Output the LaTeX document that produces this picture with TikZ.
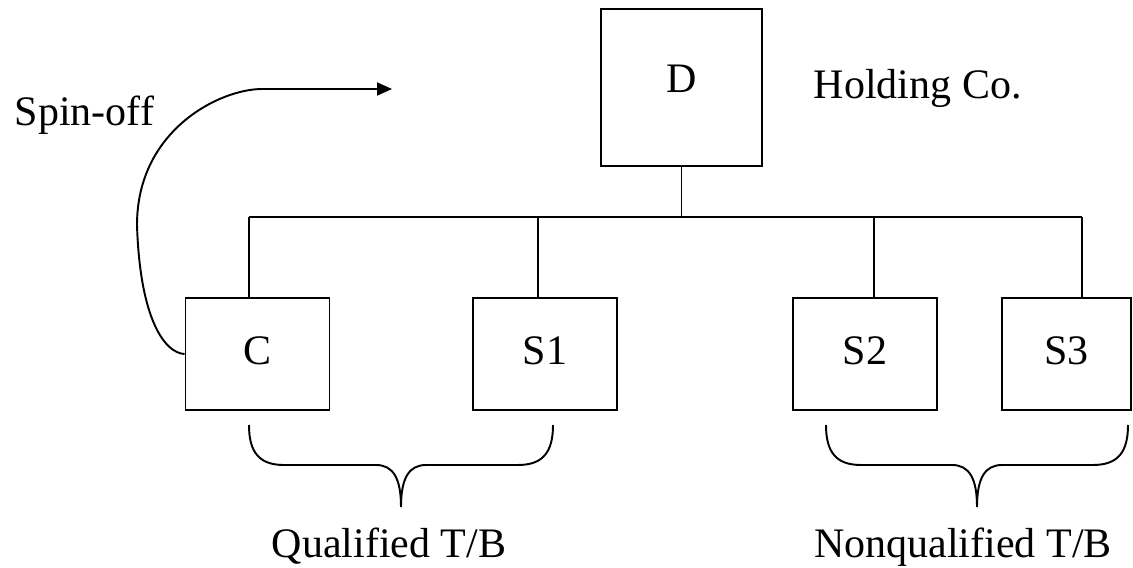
\documentclass[tikz,border=0pt]{standalone}
\usepackage{fontspec}
\setmainfont{Liberation Serif}
\usetikzlibrary{calc,arrows.meta}
\def\tbbrace(#1:#2){\draw[line width=1.1pt] (#1, 425) .. controls (#1, 452) and ({#1+10}, 465) .. ({#1+35}, 465) -- ({(#1+#2)/2-25}, 465) .. controls ({(#1+#2)/2-8}, 465) and ({(#1+#2)/2}, 478) .. ({(#1+#2)/2}, 507) .. controls ({(#1+#2)/2}, 478) and ({(#1+#2)/2+8}, 465) .. ({(#1+#2)/2+25}, 465) -- ({#2-35}, 465) .. controls ({#2-10}, 465) and (#2, 452) .. (#2, 425);}
\tikzset{
	firm/.style={draw, line width=1.1pt, minimum width=2.88cm, minimum height=2.24cm, inner sep=0pt, text depth=0.12cm, font=\fontsize{23.9}{28}\selectfont},
	caption/.style={inner sep=0pt, font=\fontsize{23.9}{28}\selectfont}
}

\begin{document}
\begin{tikzpicture}[x=0.02cm, y=-0.02cm, line width=1.1pt]
			%%%%% START %%%%%
			\useasboundingbox (0, 0) rectangle (1133, 568);
			
			\node[firm, minimum width=3.22cm, minimum height=3.14cm, text depth=0.36cm] (D) at (681.5, 87.5) {D};
			\node[caption, anchor=base west] (hold) at (813, 98) {Holding Co.};
			
			\node[firm] (C) at (257.5, 354) {C};
			\node[firm] (S1) at (545, 354) {S1};
			\node[firm] (S2) at (865, 354) {S2};
			\node[firm, minimum width=2.58cm] (S3) at (1066.5, 354) {S3};
			
			\coordinate (jC) at (249, 217);
			\coordinate (jS1) at (538, 217);
			\coordinate (jS2) at (874, 217);
			\coordinate (jS3) at (1082, 217);
			
			\draw (D.south) -- (D.south |- jC);
			\draw (jC) -- (jS3);
			\draw (jC) -- (jC |- C.north);
			\draw (jS1) -- (jS1 |- S1.north);
			\draw (jS2) -- (jS2 |- S2.north);
			\draw (jS3) -- (jS3 |- S3.north);
			
			\node[caption, anchor=base west] (spin) at (14, 125) {Spin-off};
			\coordinate (tip) at (392, 89);
			\draw[-{Triangle[length=0.3cm, width=0.26cm]}] (C.west) .. controls (165, 353) and (140, 320) .. (137, 225) .. controls (137, 130) and (220, 89) .. (262, 89) -- (tip);
			
			\tbbrace(249:553)
			\tbbrace(826:1128)
			\node[caption, anchor=base] (qual) at (389, 557) {Qualified T/B};
			\node[caption, anchor=base] (nonq) at (963, 557) {Nonqualified T/B};
			
			%%%%% END %%%%%
		\end{tikzpicture}
\end{document}
